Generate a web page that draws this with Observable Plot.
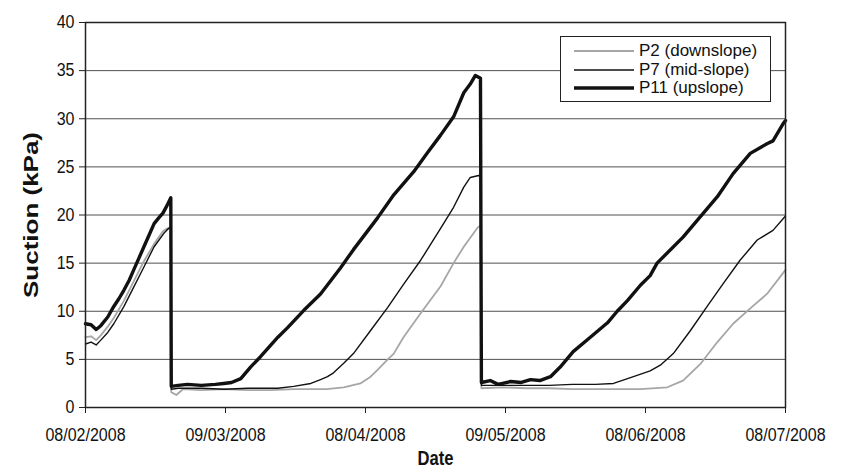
<!DOCTYPE html>
<html>
<head>
<meta charset="utf-8">
<script src="https://cdn.jsdelivr.net/npm/d3@7"></script>
<script src="https://cdn.jsdelivr.net/npm/@observablehq/plot@0.6"></script>
<style>
  body { margin: 0; background: #fff; }
  #chart { position: relative; width: 844px; height: 472px; font-family: "Liberation Sans", Arial, sans-serif; }
  .legend { position: absolute; left: 560px; top: 36px; width: 211px; height: 66px; box-sizing: border-box;
            border: 1px solid #222; background: #fff; padding: 5px 0 0 12px; font-size: 17px; color: #111; }
  .legend .row { display: flex; align-items: center; height: 18.5px; }
  .legend svg { width: 62px; height: 10px; margin-right: 4px; flex: none; }
  .legend span { white-space: nowrap; }
</style>
</head>
<body>
<div id="chart"></div>
<script>
// Suction readings, [days after 08/02/2008 12:00, kPa]
const p2 = [[0,7.3],[1.2,7.4],[2.3,7.0],[3.3,7.5],[4.8,8.4],[6.1,9.3],[8.3,11.1],[10.4,13.1],[12.6,15.2],[14.8,17.0],[16.7,18.3],[17.6,18.6],[18.4,18.6],
  [18.5,1.6],[19.6,1.3],[21,1.9],[25,1.8],[30,1.9],[35,1.8],[40,1.8],[45,1.9],[52,1.9],[55.7,2.1],[59.3,2.5],[61.5,3.2],[63,3.9],[65.2,5.0],[66.5,5.6],
  [68.6,7.3],[72.3,9.8],[76.6,12.6],[79.4,15.0],[81.6,16.7],[84.6,18.7],[85.3,18.9],
  [85.4,2.0],[90,2.1],[95,2.0],[100,2.0],[105,1.9],[110,1.9],[115,1.9],[119.7,1.9],[125.5,2.1],[128.9,2.8],[132.6,4.5],[136.3,6.8],[139.7,8.7],
  [143.4,10.3],[147,11.8],[151,14.3]];

const p7 = [[0,6.6],[1.2,6.8],[2.3,6.5],[3.3,7.0],[4.8,7.8],[6.1,8.7],[8.3,10.5],[10.4,12.5],[12.6,14.6],[14.8,16.7],[16.9,18.1],[17.9,18.6],[18.4,18.8],
  [18.5,1.9],[20,2.0],[25,2.0],[30,1.9],[35,2.0],[41.5,2.0],[44.9,2.2],[48.6,2.5],[50.7,2.9],[52.2,3.2],[53.5,3.6],[55.7,4.6],[57.8,5.6],[61.5,8.0],
  [65.2,10.4],[68.6,12.8],[72.3,15.3],[76.6,18.6],[79.4,20.8],[81.6,22.9],[83,23.9],[84.8,24.1],[85.3,24.0],
  [85.4,2.3],[90,2.3],[95,2.3],[100,2.3],[105,2.4],[110,2.4],[113.9,2.5],[118.2,3.2],[121.8,3.8],[124,4.4],[126.8,5.6],[130.5,8.0],[134.1,10.5],
  [137.6,12.9],[141.2,15.3],[144.9,17.4],[148.3,18.4],[151,19.9]];

const p11 = [[0,8.7],[1.2,8.6],[2.3,8.1],[3.3,8.5],[4.8,9.4],[6.1,10.5],[7.2,11.3],[8.3,12.2],[9.4,13.2],[10.4,14.3],[11.5,15.5],[12.6,16.7],[13.7,17.9],
  [14.8,19.1],[15.8,19.7],[16.7,20.2],[17.6,21.0],[18.4,21.8],
  [18.5,2.2],[20,2.3],[22,2.4],[25,2.3],[28,2.4],[29.8,2.5],[31.5,2.6],[33.5,3.0],[35.6,4.2],[37.8,5.3],[41.5,7.3],[43.6,8.3],[47.1,10.1],[50.7,11.8],
  [55,14.5],[57.8,16.4],[63,19.7],[66.5,22.1],[70.8,24.5],[73.8,26.5],[76.6,28.3],[79.4,30.2],[81.6,32.7],[83,33.6],[84.1,34.5],[85.2,34.2],
  [85.4,2.6],[87.3,2.8],[89,2.4],[91.7,2.7],[94,2.6],[96,2.9],[98,2.8],[100.3,3.2],[102.4,4.2],[105.2,5.8],[108.9,7.3],[112.6,8.8],[114.7,10.0],
  [116.9,11.1],[119.7,12.7],[121.8,13.7],[123.3,15.0],[128.9,17.7],[132.6,19.8],[136.3,21.9],[139.7,24.3],[143.4,26.4],[147,27.4],[148.3,27.7],
  [150.5,29.5],[151,29.8]];

const seriesNames = ["P2 (downslope)", "P7 (mid-slope)", "P11 (upslope)"];
const yTicks = [0, 5, 10, 15, 20, 25, 30, 35, 40];
const xTickDays = [0, 30.2, 60.4, 90.6, 120.8, 151];

const start = Date.UTC(2008, 1, 8, 12);
const toDate = d => new Date(start + d * 864e5);
const rows = (pts) => pts.map(([d, v]) => ({date: toDate(d), kPa: v}));

const fmt = d3.utcFormat("%d/%m/%Y");

const chart = Plot.plot({
  width: 844,
  height: 472,
  marginLeft: 85,
  marginRight: 59,
  marginTop: 22,
  marginBottom: 65,
  style: {fontFamily: "'Liberation Sans', Arial, sans-serif", fontSize: "18px", color: "#111", background: "#fff"},
  x: {type: "utc", domain: [toDate(0), toDate(151)]},
  y: {domain: [0, 40]},
  marks: [
    Plot.gridY(yTicks, {stroke: "#505050", strokeOpacity: 1, strokeWidth: 1}),
    Plot.axisY(yTicks, {tickSize: 6, tickPadding: 5, fontSize: 18, label: null, stroke: "#222", className: "tick-y"}),
    Plot.axisX(xTickDays.map(toDate), {tickSize: 6, tickPadding: 15, fontSize: 18, tickFormat: fmt, label: null, stroke: "#222", className: "tick-x"}),
    Plot.line(rows(p2), {x: "date", y: "kPa", stroke: "#a6a6a6", strokeWidth: 1.8}),
    Plot.line(rows(p7), {x: "date", y: "kPa", stroke: "#111", strokeWidth: 1.4}),
    Plot.line(rows(p11), {x: "date", y: "kPa", stroke: "#111", strokeWidth: 3.4}),
    Plot.frame({stroke: "#222", strokeWidth: 1.5}),
    Plot.text(["Suction (kPa)"], {frameAnchor: "left", textAnchor: "middle", lineAnchor: "middle", rotate: -90, dx: -54,
      fontWeight: "bold", fontSize: 26, className: "title-y"}),
    Plot.text(["Date"], {frameAnchor: "bottom", lineAnchor: "middle", dy: 51, fontWeight: "bold", fontSize: 20, className: "title-x"})
  ]
});

const root = document.getElementById("chart");
root.appendChild(chart);

// Narrow the lettering horizontally, keeping each label's anchor point
function squeeze(selector, k) {
  chart.querySelectorAll(selector + " text").forEach(t => {
    const len = t.getComputedTextLength();
    t.setAttribute("textLength", (len * k).toFixed(2));
    t.setAttribute("lengthAdjust", "spacingAndGlyphs");
  });
}
squeeze(".tick-x", 0.89);
squeeze(".tick-y", 0.89);
squeeze(".title-x", 0.83);
// the rotated title is narrowed across its glyph height (screen x direction)
chart.querySelectorAll(".title-y text").forEach(t => {
  t.setAttribute("transform", t.getAttribute("transform") + " scale(1,0.75)");
});

// Legend box inside the plotting area
const legendStyles = [
  {stroke: "#a6a6a6", width: 1.8},
  {stroke: "#111", width: 1.4},
  {stroke: "#111", width: 3.4}
];
const legend = document.createElement("div");
legend.className = "legend";
seriesNames.forEach((name, i) => {
  const row = document.createElement("div");
  row.className = "row";
  row.innerHTML = `<svg viewBox="0 0 62 10"><line x1="1" x2="61" y1="5" y2="5" stroke="${legendStyles[i].stroke}" stroke-width="${legendStyles[i].width}"/></svg><span>${name}</span>`;
  legend.appendChild(row);
});
root.appendChild(legend);
</script>
</body>
</html>
